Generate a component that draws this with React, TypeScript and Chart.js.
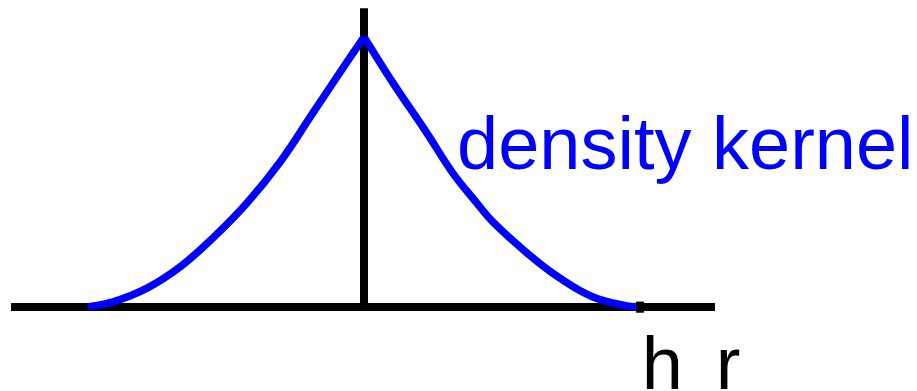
import React, { useEffect, useRef } from "react";
import { Chart, registerables } from "chart.js";

Chart.register(...registerables);

// Kernel profile: r in units of h, density normalised to the peak
const LEFT_R = [-1.0, -0.909, -0.786, -0.667, -0.547, -0.424, -0.304, -0.185, -0.062, 0];
const LEFT_DENSITY = [0, 0.019, 0.07, 0.148, 0.256, 0.385, 0.537, 0.719, 0.907, 1];
const RIGHT_R = [0, 0.105, 0.228, 0.322, 0.409, 0.467, 0.591, 0.71, 0.83, 0.953, 1.0];
const RIGHT_DENSITY = [1, 0.83, 0.644, 0.496, 0.385, 0.315, 0.2, 0.107, 0.037, 0.004, 0];

// Axis extents (data units)
const H_AXIS_R = [-1.279, 1.272];
const V_AXIS_DENSITY = [0, 1.106];
const H_TICK_R = 1.0;
const H_TICK_DENSITY = [-0.021, 0.02];

// View window
const X_RANGE = [-1.319, 2.004];
const Y_RANGE = [-0.311, 1.137];

// Labels
const LABEL_TEXTS = ["density kernel", "h", "r"];
const LABEL_R = [0.337, 1.007, 1.275];
const LABEL_DENSITY = [0.511, -0.304, -0.304];
const LABEL_COLORS = ["#0000ff", "#000000", "#000000"];

const labelPlugin = {
  id: "kernelLabels",
  afterDatasetsDraw(chart: any) {
    const { ctx, scales } = chart;
    ctx.save();
    ctx.font = '74px "Liberation Sans", Arial, sans-serif';
    ctx.textAlign = "left";
    ctx.textBaseline = "alphabetic";
    LABEL_TEXTS.forEach((t, i) => {
      ctx.fillStyle = LABEL_COLORS[i];
      ctx.fillText(t, scales.x.getPixelForValue(LABEL_R[i]), scales.y.getPixelForValue(LABEL_DENSITY[i]));
    });
    ctx.restore();
  },
};

export default function App() {
  const ref = useRef<HTMLCanvasElement | null>(null);
  useEffect(() => {
    document.body.style.margin = "0";
    const canvas = ref.current;
    if (!canvas) return;
    const zip = (xs: number[], ys: number[]) => xs.map((x, i) => ({ x, y: ys[i] }));
    const curve = (xs: number[], ys: number[]) => ({
      data: zip(xs, ys),
      showLine: true,
      borderColor: "#0000ff",
      borderWidth: 7.5,
      pointRadius: 0,
      tension: 0.4,
      borderCapStyle: "butt",
      order: 1,
    });
    const blackLine = (pts: { x: number; y: number }[], order: number) => ({
      data: pts,
      showLine: true,
      borderColor: "#000000",
      borderWidth: 8,
      pointRadius: 0,
      borderCapStyle: "butt",
      order,
    });
    const chart = new Chart(canvas, {
      type: "scatter",
      data: {
        datasets: [
          blackLine(H_TICK_DENSITY.map((y) => ({ x: H_TICK_R, y })), 0),
          curve(LEFT_R, LEFT_DENSITY),
          curve(RIGHT_R, RIGHT_DENSITY),
          blackLine(H_AXIS_R.map((x) => ({ x, y: 0 })), 2),
          blackLine(V_AXIS_DENSITY.map((y) => ({ x: 0, y })), 2),
        ],
      },
      options: {
        animation: false,
        responsive: false,
        maintainAspectRatio: false,
        layout: { padding: 0, autoPadding: false },
        plugins: { legend: { display: false }, tooltip: { enabled: false } },
        scales: {
          x: { type: "linear", min: X_RANGE[0], max: X_RANGE[1], display: false },
          y: { type: "linear", min: Y_RANGE[0], max: Y_RANGE[1], display: false },
        },
      },
      plugins: [labelPlugin],
    } as any);
    return () => chart.destroy();
  }, []);
  return (
    <div style={{ width: 917, height: 391 }}>
      <canvas ref={ref} width={917} height={391} style={{ display: "block" }} />
    </div>
  );
}
